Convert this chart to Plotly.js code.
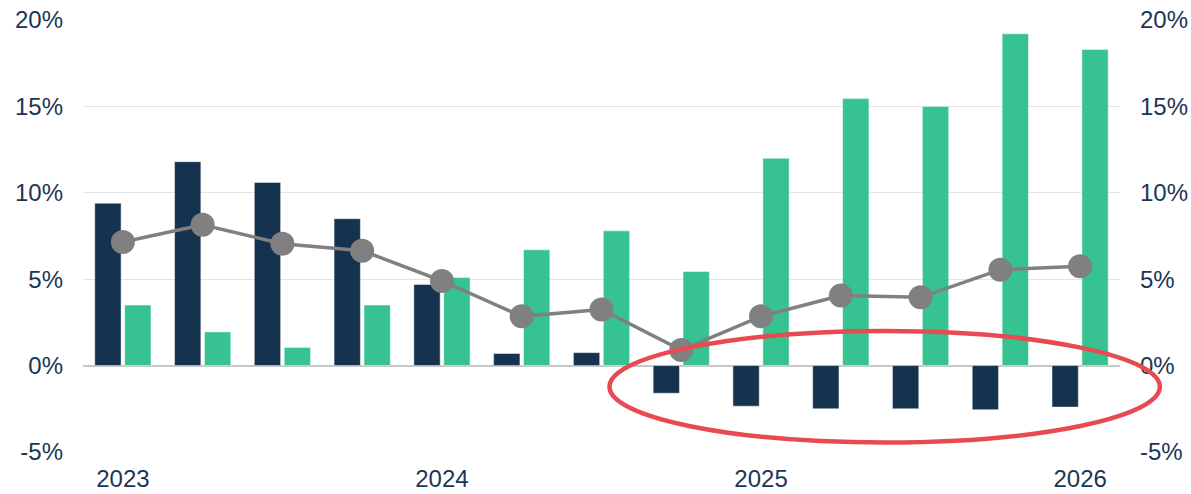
<!DOCTYPE html>
<html>
<head>
<meta charset="utf-8">
<script src="https://cdn.plot.ly/plotly-3.0.1.min.js"></script>
<style>
  html, body { margin: 0; padding: 0; background: #ffffff; }
  #chart { width: 1191px; height: 494px; }
</style>
</head>
<body>
<div id="chart"></div>
<script>
const categories = ["2023 Q1","2023 Q2","2023 Q3","2023 Q4","2024 Q1","2024 Q2","2024 Q3","2024 Q4","2025 Q1","2025 Q2","2025 Q3","2025 Q4","2026 Q1"];
const navySeries = [9.4, 11.8, 10.6, 8.5, 4.7, 0.7, 0.75, -1.6, -2.35, -2.5, -2.5, -2.55, -2.4];
const greenSeries = [3.5, 1.95, 1.05, 3.5, 5.1, 6.7, 7.8, 5.45, 12.0, 15.45, 15.0, 19.2, 18.3];
const lineSeries = [7.15, 8.15, 7.05, 6.65, 4.9, 2.85, 3.25, 0.9, 2.85, 4.05, 3.95, 5.55, 5.75];
const tickCats = ["2023 Q1","2024 Q1","2025 Q1","2026 Q1"];
const tickLabels = ["2023","2024","2025","2026"];
const yTicks = [-5, 0, 5, 10, 15, 20];
const yTickLabels = ["-5%","0%","5%","10%","15%","20%"];
const yRange = [-5, 20];
// highlight ellipse, in category-index / value units
const ellipseX = [6.1, 13.0];
const ellipseY = [-4.45, 2.0];

const textColor = "#1c3554";
const font = {family: "Liberation Sans, Arial, sans-serif", size: 24, color: textColor};

const nCat = categories.length;
const toPaperX = i => (i + 0.5) / nCat;
const toPaperY = v => (v - yRange[0]) / (yRange[1] - yRange[0]);

const traces = [
  {type: "bar", x: categories, y: navySeries, name: "A",
   marker: {color: "#15324f", line: {color: "rgba(255,255,255,0.6)", width: 0.8}}},
  {type: "bar", x: categories, y: greenSeries, name: "B",
   marker: {color: "#37c391", line: {color: "rgba(255,255,255,0.6)", width: 0.8}}},
  {type: "scatter", mode: "lines+markers", x: categories, y: lineSeries, name: "C",
   line: {color: "#808080", width: 3.5},
   marker: {color: "#808080", size: 24}},
  {type: "scatter", mode: "none", x: categories, y: lineSeries, yaxis: "y2",
   showlegend: false, hoverinfo: "skip"}
];

const layout = {
  width: 1191, height: 494,
  margin: {l: 83, r: 71, t: 20, b: 42},
  paper_bgcolor: "#ffffff", plot_bgcolor: "#ffffff",
  showlegend: false,
  barmode: "group",
  bargap: 0.25,
  bargroupgap: 0.12,
  font: font,
  xaxis: {
    type: "category",
    categoryorder: "array", categoryarray: categories,
    range: [-0.5, nCat - 0.5],
    tickmode: "array", tickvals: tickCats, ticktext: tickLabels,
    showgrid: false, zeroline: false, showline: false,
    ticks: "", ticklen: 0, tickfont: font, ticklabelstandoff: 10
  },
  yaxis: {
    range: yRange,
    tickmode: "array", tickvals: yTicks, ticktext: yTickLabels,
    showgrid: true, gridcolor: "#e3e3e3", gridwidth: 1.3,
    zeroline: true, zerolinecolor: "#c6c6c6", zerolinewidth: 2,
    showline: false, ticks: "", tickfont: font, ticklabelstandoff: 19
  },
  yaxis2: {
    overlaying: "y", side: "right",
    range: yRange,
    tickmode: "array", tickvals: yTicks, ticktext: yTickLabels,
    showgrid: false, zeroline: false, showline: false,
    ticks: "", tickfont: font, ticklabelstandoff: 19
  },
  shapes: [
    {type: "circle", xref: "paper", yref: "paper", layer: "above",
     x0: toPaperX(ellipseX[0]), x1: toPaperX(ellipseX[1]),
     y0: toPaperY(ellipseY[0]), y1: toPaperY(ellipseY[1]),
     line: {color: "#e84a52", width: 4.5}}
  ]
};

Plotly.newPlot("chart", traces, layout, {displayModeBar: false, staticPlot: true});
</script>
</body>
</html>
